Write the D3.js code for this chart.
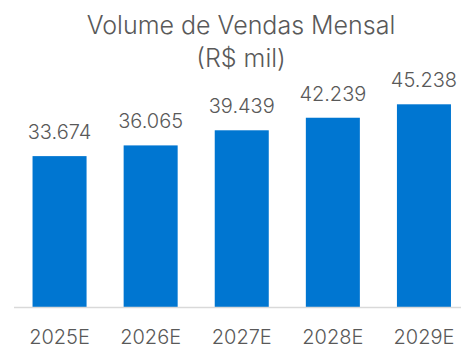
<!DOCTYPE html>
<html>
<head>
<meta charset="utf-8">
<script src="https://cdn.jsdelivr.net/npm/d3@7"></script>
<style>
  html, body { margin: 0; padding: 0; background: #ffffff; }
  svg { display: block; }
  text { font-family: Inter, "Noto Sans", sans-serif; fill: #595959; }
</style>
</head>
<body>
<svg id="chart" width="462" height="346"></svg>
<script>
// Monthly sales volume, R$ thousand
const categories = ["2025E", "2026E", "2027E", "2028E", "2029E"];
const values = [33674, 36065, 39439, 42239, 45238];
const titleLines = ["Volume de Vendas Mensal", "(R$ mil)"];

const svg = d3.select("#chart");
const baseY = 307;

const x = d3.scaleBand()
  .domain(categories)
  .range([14, 469.5])
  .paddingInner(0.407)
  .paddingOuter(0.2035);

const y = d3.scaleLinear()
  .domain([0, d3.max(values)])
  .range([baseY, 104.3]);

const fmt = v => d3.format(",")(v).replace(/,/g, ".");

// Title
svg.append("g").selectAll("text")
  .data(titleLines)
  .join("text")
  .attr("x", 241)
  .attr("y", (d, i) => 34 + i * 33)
  .attr("text-anchor", "middle")
  .style("font-size", "25px")
  .style("font-weight", 300)
  .text(d => d);

// Bars
svg.append("g").selectAll("rect")
  .data(values)
  .join("rect")
  .attr("x", (d, i) => x(categories[i]))
  .attr("width", x.bandwidth())
  .attr("y", d => y(d))
  .attr("height", d => baseY - y(d))
  .attr("fill", "#0076D1");

// Value labels
svg.append("g").selectAll("text")
  .data(values)
  .join("text")
  .attr("x", (d, i) => x(categories[i]) + x.bandwidth() / 2)
  .attr("y", d => y(d) - 17)
  .attr("text-anchor", "middle")
  .style("font-size", "20px")
  .style("font-weight", 300)
  .text(d => fmt(d));

// Baseline
svg.append("line")
  .attr("x1", 14).attr("x2", 461)
  .attr("y1", baseY + 0.5).attr("y2", baseY + 0.5)
  .attr("stroke", "#D9D9D9")
  .attr("stroke-width", 1.5);

// Category axis labels
const xAxis = d3.axisBottom(x).tickSize(0).tickPadding(0);
const gx = svg.append("g")
  .attr("transform", `translate(0, ${baseY})`)
  .call(xAxis);
gx.select(".domain").remove();
gx.selectAll("text")
  .attr("dy", null)
  .attr("y", 37)
  .style("font-size", "20px")
  .style("font-weight", 300)
  .style("font-family", "Inter, 'Noto Sans', sans-serif")
  .attr("fill", "#595959");
</script>
</body>
</html>
